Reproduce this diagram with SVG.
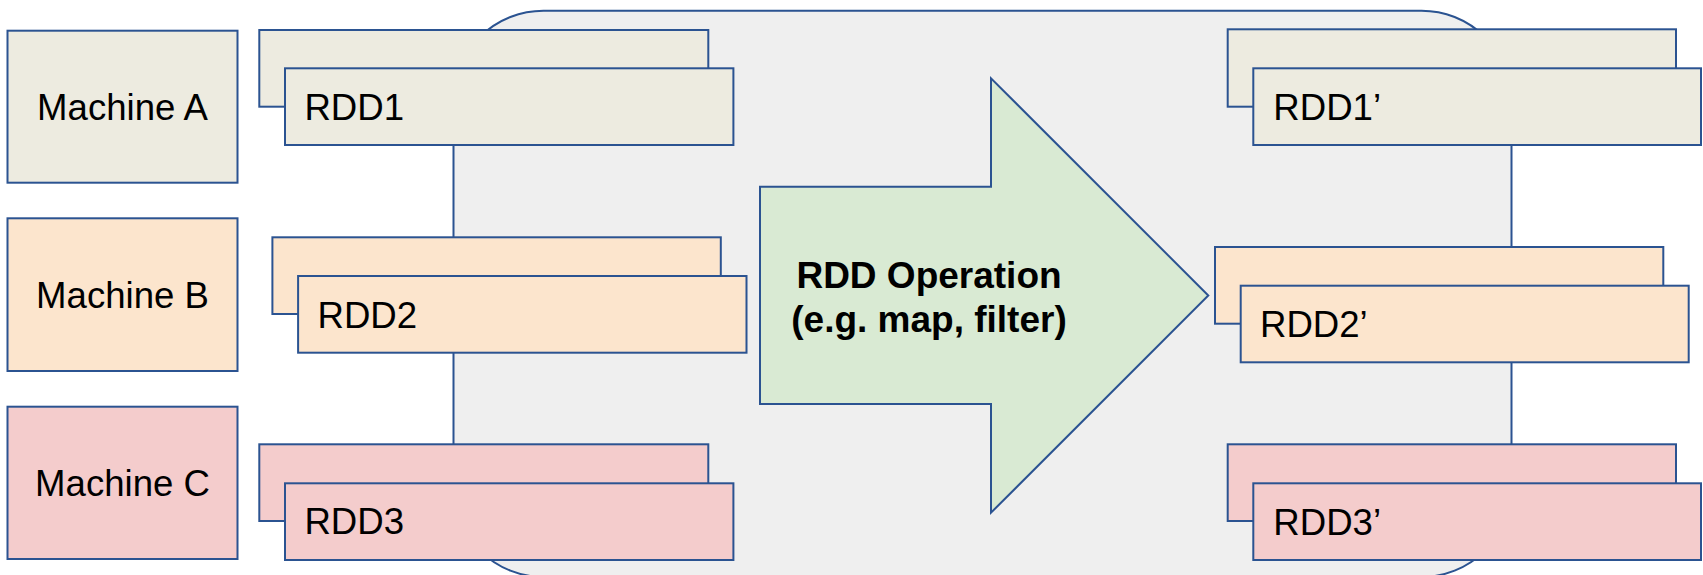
<svg xmlns="http://www.w3.org/2000/svg" width="1703" height="575" viewBox="0 0 1703 575">
  <style>
    .box { stroke: #2b5391; stroke-width: 2; }
    .tan { fill: #edebe0; }
    .peach { fill: #fce5cd; }
    .rose { fill: #f4cccc; }
    .label { font-family: "Liberation Sans", Arial, sans-serif; font-size: 36.6px; fill: #000; }
    .op { font-family: "Liberation Sans", Arial, sans-serif; font-size: 37px; font-weight: bold; fill: #000; text-anchor: middle; }
  </style>

  <!-- cluster background -->
  <g id="cluster">
    <rect x="453.5" y="10.7" width="1058" height="566.3" rx="90" ry="90" fill="#efefef" class="box"/>
  </g>

  <!-- machines -->
  <g id="machine-a">
    <rect x="7.5" y="30.7" width="230" height="152" class="box tan"/>
    <text x="122.5" y="120" class="label" text-anchor="middle">Machine A</text>
  </g>
  <g id="machine-b">
    <rect x="7.5" y="218.3" width="230" height="152.7" class="box peach"/>
    <text x="122.5" y="308" class="label" text-anchor="middle">Machine B</text>
  </g>
  <g id="machine-c">
    <rect x="7.5" y="406.7" width="230" height="152.3" class="box rose"/>
    <text x="122.5" y="496" class="label" text-anchor="middle">Machine C</text>
  </g>

  <!-- input partitions -->
  <g id="rdd1">
    <rect x="259.3" y="30" width="449" height="76.7" class="box tan"/>
    <rect x="285" y="68.3" width="448.4" height="76.7" class="box tan"/>
    <text x="304.4" y="120" class="label">RDD1</text>
  </g>
  <g id="rdd2">
    <rect x="272.4" y="237.3" width="448.4" height="76.7" class="box peach"/>
    <rect x="298.1" y="276" width="448.4" height="76.7" class="box peach"/>
    <text x="317.5" y="327.7" class="label">RDD2</text>
  </g>
  <g id="rdd3">
    <rect x="259.3" y="444.3" width="449" height="76.7" class="box rose"/>
    <rect x="285" y="483.3" width="448.4" height="76.7" class="box rose"/>
    <text x="304.4" y="534.3" class="label">RDD3</text>
  </g>

  <!-- transformation -->
  <g id="operation">
    <path d="M760 186.7 H991 V78.3 L1208.3 295.5 L991 512.7 V404 H760 Z" fill="#d9ead3" class="box" stroke-linejoin="miter"/>
    <text x="929" y="287.7" class="op">RDD Operation</text>
    <text x="929" y="331.7" class="op">(e.g. map, filter)</text>
  </g>

  <!-- output partitions -->
  <g id="rdd1-out">
    <rect x="1227.7" y="29.3" width="448.3" height="77.4" class="box tan"/>
    <rect x="1253.3" y="68.3" width="447.7" height="76.7" class="box tan"/>
    <text x="1273.3" y="119.5" class="label">RDD1’</text>
  </g>
  <g id="rdd2-out">
    <rect x="1215" y="247" width="448.3" height="76.7" class="box peach"/>
    <rect x="1240.7" y="285.7" width="448" height="76.6" class="box peach"/>
    <text x="1260" y="336.7" class="label">RDD2’</text>
  </g>
  <g id="rdd3-out">
    <rect x="1227.7" y="444.3" width="448.3" height="76.7" class="box rose"/>
    <rect x="1253.3" y="483.3" width="447.7" height="76.7" class="box rose"/>
    <text x="1273.3" y="535" class="label">RDD3’</text>
  </g>

  <g id="connectors"/>
</svg>
